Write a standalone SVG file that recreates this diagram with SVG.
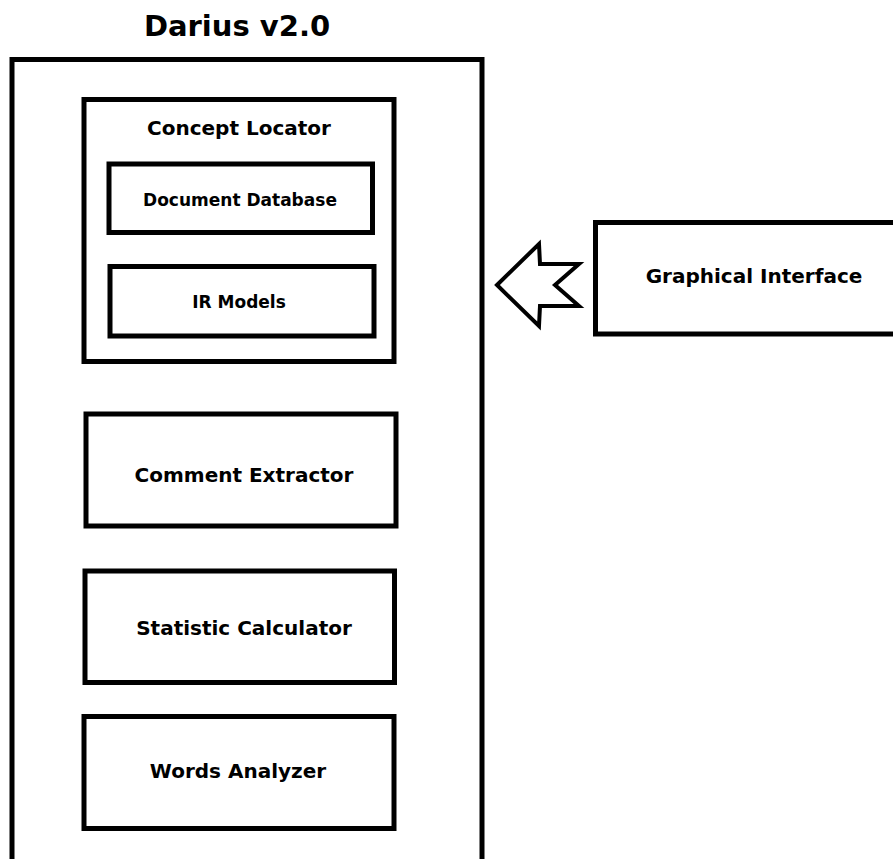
<svg xmlns="http://www.w3.org/2000/svg" width="893" height="859" viewBox="0 0 893 859">
<style>
.box{fill:#fff;stroke:#000;stroke-width:5}
.t{font-family:"DejaVu Sans",sans-serif;font-weight:bold;fill:#000;text-anchor:middle}
.l{font-size:20px}
.s{font-size:17px}
</style>
<rect width="893" height="859" fill="#fff"/>
<g id="darius">
<rect class="box" x="12" y="59.5" width="470" height="830"/>
<text class="t" x="237" y="36" font-size="29">Darius v2.0</text>
</g>
<g id="concept-locator">
<rect class="box" x="84" y="99.5" width="310" height="262"/>
<text class="t l" x="239" y="135">Concept Locator</text>
</g>
<g id="document-database">
<rect class="box" x="109" y="164" width="263.5" height="68.5"/>
<text class="t s" x="240" y="206">Document Database</text>
</g>
<g id="ir-models">
<rect class="box" x="110" y="266.5" width="264" height="69.5"/>
<text class="t s" x="239" y="308">IR Models</text>
</g>
<g id="comment-extractor">
<rect class="box" x="86" y="414" width="310" height="112"/>
<text class="t l" x="244" y="482">Comment Extractor</text>
</g>
<g id="statistic-calculator">
<rect class="box" x="85" y="571" width="309.5" height="111.5"/>
<text class="t l" x="244" y="635">Statistic Calculator</text>
</g>
<g id="words-analyzer">
<rect class="box" x="84" y="716.5" width="310" height="112"/>
<text class="t l" x="238" y="778">Words Analyzer</text>
</g>
<g id="graphical-interface">
<rect class="box" x="595.5" y="222.5" width="310" height="111.5"/>
<text class="t l" x="754" y="283">Graphical Interface</text>
</g>
<g id="connectors">
<polygon points="497,285 539,244 540,264 579,264 555,285 579,306 540,306 539,326" fill="#fff" stroke="#000" stroke-width="4" stroke-linejoin="miter"/>
</g>
</svg>
